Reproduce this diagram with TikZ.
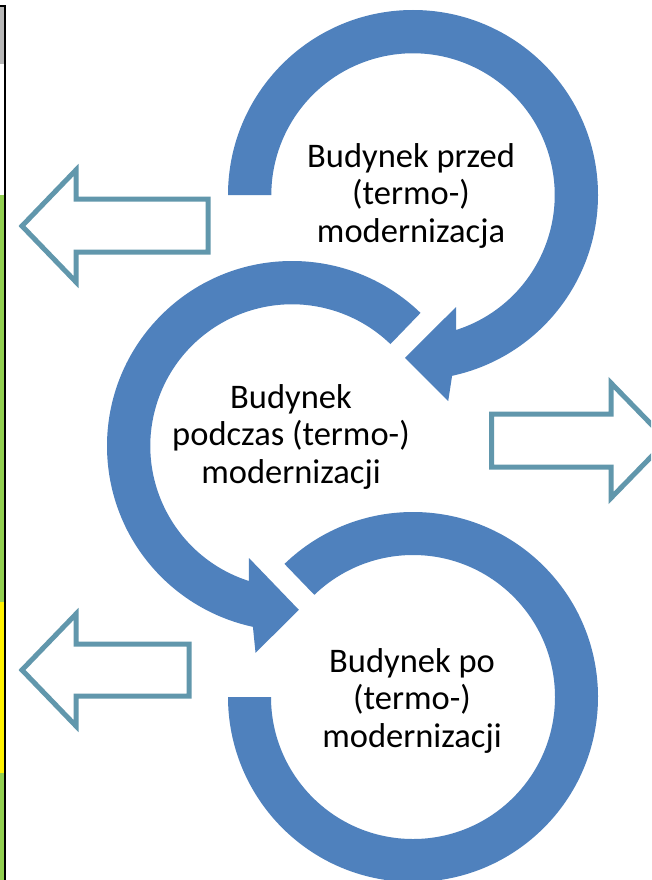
\documentclass[tikz,border=0pt]{standalone}
\usepackage{fontspec}
\setmainfont{Carlito}
\definecolor{ringblue}{RGB}{79,129,189}
\definecolor{arrowcol}{RGB}{97,151,172}
\definecolor{stripgreen}{RGB}{146,208,80}
\definecolor{stripgray}{RGB}{183,183,183}
\tikzset{
  ring/.style={fill=ringblue},
  blockarrow/.style={draw=arrowcol, line width=5pt, fill=white, line join=miter},
  lbl/.style={font=\fontsize{34.5}{37.5}\selectfont, anchor=base, inner sep=0pt}
}
\begin{document}
\begin{tikzpicture}[x=1pt,y=1pt]
\useasboundingbox (0,0) rectangle (651,-880);
\clip (0,0) rectangle (651,-880);
\fill[white] (0,0) rectangle (651,-880);
% left strip
\fill[stripgray] (0,-7) rectangle (4,-64);
\fill[stripgreen] (0,-195) rectangle (4,-602);
\fill[yellow] (0,-602) rectangle (4,-773);
\fill[stripgreen] (0,-773) rectangle (4,-880);
\fill[black] (0,-5) rectangle (6,-7);
\fill[black] (4,-5) rectangle (6,-880);
% top ring
\begin{scope}[shift={(413,-195)}]
\coordinate (c1) at (0,0);
\fill[ring] (180:185) arc[start angle=180, end angle=-77.8, radius=185]
  -- (-80.3:209) -- (-92.8:163) -- (-69:120) -- (-72.3:141.7)
  arc[start angle=-72.3, end angle=180, radius=141.7] -- cycle;
\end{scope}
% middle ring
\begin{scope}[shift={(292,-446)}]
\coordinate (c2) at (0,0);
\fill[ring] (46:185) arc[start angle=46, end angle=257.8, radius=185]
  -- (260:210) -- (272.4:164) -- (249:120) -- (252.3:141.7)
  arc[start angle=252.3, end angle=46, radius=141.7] -- cycle;
\end{scope}
% bottom ring
\begin{scope}[shift={(413,-697)}]
\coordinate (c3) at (0,0);
\fill[ring] (134:185) arc[start angle=134, end angle=-180, radius=185]
  -- (180:142) arc[start angle=-180, end angle=134, radius=142] -- cycle;
\end{scope}
% block arrows
\draw[blockarrow] (22,-226) -- (76,-170) -- (76,-199) -- (208,-199) -- (208,-252) -- (76,-252) -- (76,-282) -- cycle;
\draw[blockarrow] (491.5,-414) -- (611,-414) -- (611,-383) -- (667,-440.5) -- (611,-498) -- (611,-467) -- (491.5,-467) -- cycle;
\draw[blockarrow] (22,-670) -- (76,-614) -- (76,-644) -- (189,-644) -- (189,-696) -- (76,-696) -- (76,-726) -- cycle;
% texts
\node[lbl] (t1a) at (411,-167) {Budynek przed};
\node[lbl] (t1b) at (411,-204.5) {(termo-)};
\node[lbl] (t1c) at (411,-242) {modernizacja};
\node[lbl] (t2a) at (291,-408) {Budynek};
\node[lbl] (t2b) at (291,-445.5) {podczas (termo-)};
\node[lbl] (t2c) at (291,-483) {modernizacji};
\node[lbl] (t3a) at (412,-672) {Budynek po};
\node[lbl] (t3b) at (412,-709.5) {(termo-)};
\node[lbl] (t3c) at (412,-747) {modernizacji};
\end{tikzpicture}
\end{document}
